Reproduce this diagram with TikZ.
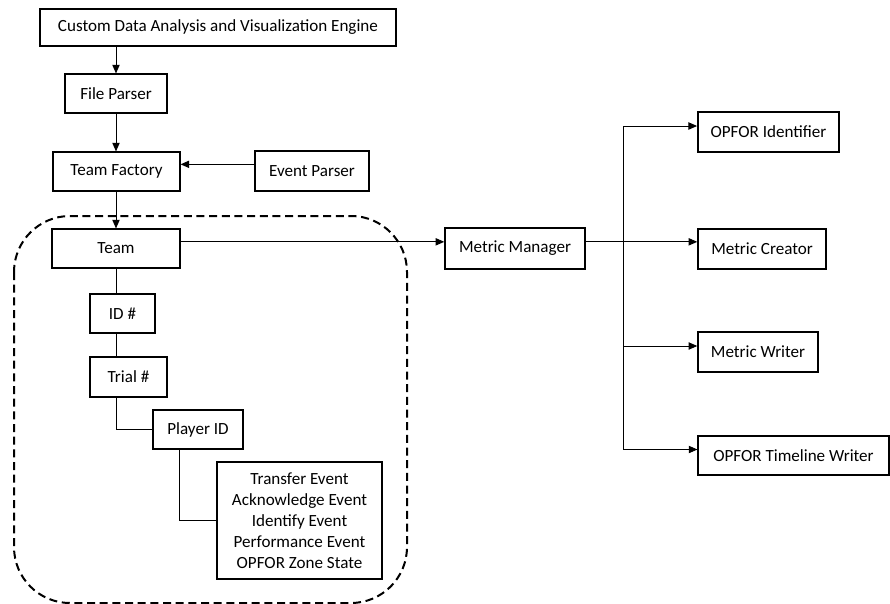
\documentclass[tikz,border=0pt]{standalone}
\usepackage{fontspec}
\setmainfont{Carlito}
\usepackage{tikz}
\usetikzlibrary{arrows.meta}
\tikzset{
  flow box/.style={rectangle, draw, line width=1.1pt, fill=white, inner sep=2pt, align=center,
    font=\fontsize{12.8}{15.75}\selectfont},
  flow link/.style={line width=0.7pt, -{Triangle[length=6.5pt, width=5.5pt]}},
  flow line/.style={line width=0.7pt},
  flow group/.style={line width=1.5pt, dash pattern=on 6pt off 3.5pt, rounded corners=42pt}
}

\begin{document}
\begin{tikzpicture}[x=0.75pt, y=-0.75pt]
      \useasboundingbox (0,0) rectangle (890,604);
      \draw[flow group] (14,216) rectangle (407,603);
      \node[flow box, minimum width=267pt, minimum height=27.75pt] (engine) at (218,27.5) {Custom Data Analysis and Visualization Engine};
      \node[flow box, minimum width=76.5pt, minimum height=29pt] (fp) at (116,93.5) {File Parser};
      \node[flow box, minimum width=95pt, minimum height=29pt] (tf) at (116.5,171.5) {Team Factory};
      \node[flow box, minimum width=85.5pt, minimum height=30pt] (ep) at (312,171) {Event Parser};
      \node[flow box, minimum width=96pt, minimum height=29pt] (team) at (116,248.5) {Team};
      \node[flow box, minimum width=49pt, minimum height=29pt] (id) at (122.5,313.5) {ID \#};
      \node[flow box, minimum width=58pt, minimum height=30pt] (trial) at (128.5,377) {Trial \#};
      \node[flow box, minimum width=67.5pt, minimum height=29pt] (player) at (198,429.5) {Player ID};
      \node[flow box, minimum width=124pt, minimum height=88pt] (events) at (299.5,520.5)
        {Transfer Event\\Acknowledge Event\\Identify Event\\Performance Event\\OPFOR Zone State};
      \node[flow box, minimum width=105pt, minimum height=31pt] (mm) at (515,248.5) {Metric Manager};
      \node[flow box, minimum width=106pt, minimum height=30pt] (oi) at (768.5,132) {OPFOR Identifier};
      \node[flow box, minimum width=96pt, minimum height=30pt] (mc) at (762,249) {Metric Creator};
      \node[flow box, minimum width=90pt, minimum height=30pt] (mw) at (758,352) {Metric Writer};
      \node[flow box, minimum width=143pt, minimum height=29pt] (tw) at (793.5,455.5) {OPFOR Timeline Writer};
      % parsing chain
      \draw[flow link] (engine.south -| fp.north) -- (fp.north);
      \draw[flow link] (fp.south) -- (fp.south |- tf.north);
      \draw[flow link] ([yshift=5pt]ep.west) -- ([yshift=5pt]ep.west -| tf.east);
      \draw[flow link] (tf.south -| team.north) -- (team.north);
      % team hierarchy
      \draw[flow line] (team.south) -- (team.south |- id.north);
      \draw[flow line] (team.south |- id.south) -- (team.south |- trial.north);
      \draw[flow line] (team.south |- trial.south) |- (player.west);
      \draw[flow line] ([xshift=-14pt]player.south) |- (events.west);
      % metrics
      \draw[flow link] ([yshift=5pt]team.east) -- ([yshift=5pt]team.east -| mm.west);
      \coordinate (split) at ([xshift=28.5pt, yshift=5pt]mm.east);
      \coordinate (in1) at ([yshift=4.5pt]oi.west);
      \coordinate (in3) at ([yshift=4.5pt]mw.west);
      \coordinate (in4) at ([yshift=4.5pt]tw.west);
      \draw[flow link] ([yshift=5pt]mm.east) -- ([yshift=5pt]mm.east -| mc.west);
      \draw[flow link] (split) |- (in1);
      \draw[flow link] (split) |- (in3);
      \draw[flow link] (split) |- (in4);
    \end{tikzpicture}
\end{document}
